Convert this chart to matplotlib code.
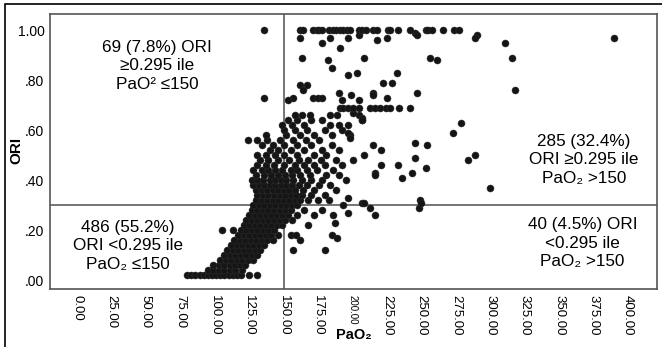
import numpy as np
import matplotlib
matplotlib.use("Agg")
from matplotlib import pyplot as plt
from matplotlib.patches import Rectangle

plt.rcParams['font.family'] = ['Liberation Sans', 'DejaVu Sans']

# cut-offs drawn as reference lines
pao2_cut = 150
ori_cut = 0.30

x_ticks = [0, 25, 50, 75, 100, 125, 150, 175, 200, 225, 250, 275, 300, 325, 350, 375, 400]
y_ticks = [0.0, 0.2, 0.4, 0.6, 0.8, 1.0]
y_tick_labels = ['.00', '.20', '.40', '.60', '.80', '1.00']

# dense band, one row per ORI level: (ori, [pao2 values])
band_rows = [
    (0.02, [80, 83, 86, 89, 92, 95, 98, 101, 104, 107, 110, 113, 116, 119, 125, 131]),
    (0.04, [95, 99, 103, 107, 111, 115, 120]),
    (0.06, [99, 103, 107, 111, 115, 118, 122]),
    (0.08, [104, 108, 112, 116, 120, 124, 128]),
    (0.10, [107, 111, 115, 119, 123, 127, 131]),
    (0.12, [109, 113, 117, 121, 125, 129, 133, 157]),
    (0.14, [112, 116, 120, 124, 128, 132, 136]),
    (0.16, [114, 118, 122, 126, 130, 134, 138, 142, 162]),
    (0.18, [117, 121, 125, 129, 133, 137, 141, 146, 155, 159]),
    (0.20, [105, 113, 119, 123, 127, 131, 135, 139, 143]),
    (0.22, [121, 125, 129, 133, 137, 141, 145, 149, 168]),
    (0.24, [123, 127, 131, 135, 139, 143, 147, 151, 156]),
    (0.26, [125, 129, 133, 137, 141, 145, 149, 153, 160, 172, 186]),
    (0.28, [127, 131, 135, 139, 143, 147, 151, 155, 165, 178]),
    (0.30, [128, 132, 136, 140, 144, 148, 152, 156, 160, 193]),
    (0.32, [130, 134, 138, 142, 146, 150, 154, 158, 162, 168, 175, 183]),
    (0.34, [131, 135, 139, 143, 147, 151, 155, 159, 163, 170, 180]),
    (0.36, [130, 134, 138, 142, 146, 150, 154, 158, 164, 172, 188]),
    (0.38, [128, 132, 136, 140, 144, 148, 152, 156, 161, 167, 176, 184]),
    (0.40, [127, 131, 135, 140, 144, 148, 152, 157, 163, 170, 178, 195]),
    (0.42, [130, 136, 141, 146, 151, 156, 162, 169, 181, 190]),
    (0.44, [128, 134, 139, 144, 149, 155, 160, 167, 174, 186]),
    (0.46, [131, 137, 143, 150, 158, 165, 172, 180, 192]),
    (0.48, [133, 139, 146, 154, 161, 168, 177, 188, 200]),
    (0.50, [131, 137, 144, 150, 160, 172, 181]),
    (0.52, [140, 146, 155, 165, 178, 190]),
    (0.54, [134, 142, 150, 160, 170, 185]),
    (0.56, [124, 131, 138, 147, 157, 166, 176]),
    (0.58, [137, 152, 162, 172, 185, 198]),
    (0.60, [150, 158, 167, 180, 192]),
    (0.62, [149, 156, 165, 184, 190, 197]),
    (0.64, [153, 160, 170, 178, 207]),
    (0.66, [158, 163, 169, 184, 189, 205]),
]

# scattered points (pao2, ori)
pts_scatter = [
    (180, 0.12), (185, 0.18), (189, 0.17), (187, 0.23), (197, 0.27), (216, 0.26),
    (213, 0.29), (207, 0.31), (208, 0.31), (197, 0.33), (248, 0.29), (249, 0.32),
    (250, 0.31), (300, 0.37), (236, 0.41), (216, 0.43), (216, 0.42), (243, 0.43),
    (221, 0.46), (233, 0.46), (253, 0.45), (245, 0.49), (284, 0.48), (289, 0.50),
    (215, 0.54), (221, 0.52), (245, 0.55), (254, 0.54), (208, 0.50), (279, 0.63),
    (273, 0.59), (197, 0.59), (198, 0.57), (207, 0.65), (207, 0.64), (200, 0.67),
    (191, 0.69), (193, 0.69), (197, 0.69), (200, 0.69), (205, 0.69), (213, 0.69),
    (216, 0.69), (220, 0.69), (224, 0.69), (227, 0.69), (234, 0.69), (242, 0.69),
    (136, 0.73), (157, 0.73), (153, 0.72), (171, 0.73), (175, 0.73), (178, 0.73),
    (190, 0.75), (192, 0.72), (199, 0.74), (205, 0.72), (215, 0.75), (215, 0.74),
    (225, 0.73), (247, 0.75), (318, 0.76), (162, 0.78), (167, 0.78), (164, 0.76),
    (222, 0.79), (229, 0.79), (232, 0.83), (197, 0.82), (203, 0.83), (185, 0.85),
    (163, 0.89), (182, 0.88), (208, 0.89), (256, 0.89), (261, 0.88), (316, 0.89),
    (191, 0.93), (178, 0.95), (311, 0.95), (162, 0.97), (184, 0.97), (197, 0.97),
    (205, 0.98), (218, 0.96), (225, 0.97), (245, 0.99), (247, 0.98), (290, 0.98),
    (289, 0.97), (390, 0.97), (136, 1.00),
]

# top row at ORI = 1.00
top_row_pao2 = [162, 164, 171, 174, 176, 178, 183, 186, 188, 191, 193, 196, 198,
                205, 207, 210, 215, 218, 226, 227, 233, 242, 253, 255, 258, 266,
                274, 277]

labels_text = [
    (58, 0.856, "69 (7.8%) ORI\n\u22650.295 ile\nPaO\u00b2 \u2264150"),
    (37, 0.136, "486 (55.2%)\nORI <0.295 ile\nPaO\u2082 \u2264150"),
    (368, 0.48, "285 (32.4%)\nORI \u22650.295 ile\nPaO\u2082 >150"),
    (367, 0.148, "40 (4.5%) ORI\n<0.295 ile\nPaO\u2082 >150"),
]


def main():
    pao2 = []
    ori = []
    for lev, row in band_rows:
        for v in row:
            pao2.append(v)
            ori.append(lev)
    for p, o in pts_scatter:
        pao2.append(p)
        ori.append(o)
    for p in top_row_pao2:
        pao2.append(p)
        ori.append(1.0)

    fig = plt.figure(figsize=(6.62, 3.47), dpi=100)
    ax = fig.add_axes([50 / 662, 1 - 289 / 347, 607 / 662, 275 / 347])

    ax.scatter(pao2, ori, s=26, color='#151515', edgecolors='#333333', linewidths=0.3, zorder=3)
    ax.axvline(pao2_cut, color='#6a6a6a', lw=1.3, zorder=2)
    ax.axhline(ori_cut, color='#6a6a6a', lw=1.3, zorder=2)

    ax.set_xlim(-19.6, 421)
    ax.set_ylim(-0.036, 1.064)
    ax.set_xticks(x_ticks)
    ax.set_xticklabels(['%.2f' % t for t in x_ticks], rotation=-90, fontsize=9.5)
    ax.set_yticks(y_ticks)
    ax.set_yticklabels(y_tick_labels, fontsize=10)
    ax.tick_params(length=0, pad=4)
    ax.get_xticklabels()[8].set_fontsize(7)

    for s in ax.spines.values():
        s.set_color('#555555')
        s.set_linewidth(1.2)

    # axis titles placed where the reference has them
    fig.text(354 / 662, 1 - 335 / 347, 'PaO\u2082', fontsize=10.5, fontweight='bold',
             ha='center', va='center')
    fig.text(16 / 662, 1 - 150 / 347, 'ORI', fontsize=11, fontweight='bold',
             rotation=90, ha='center', va='center')

    for x, y, t in labels_text:
        ax.text(x, y, t, ha='center', va='center', fontsize=12.3, linespacing=1.3)

    # outer border of the picture
    fig.patches.append(Rectangle((5 / 662, -0.01), 1.0, 1 - 4 / 347 + 0.01,
                                 transform=fig.transFigure, fill=False,
                                 edgecolor='black', lw=1.2))

    plt.savefig('out.png', dpi=100)
    plt.close()


if __name__ == '__main__':
    main()
